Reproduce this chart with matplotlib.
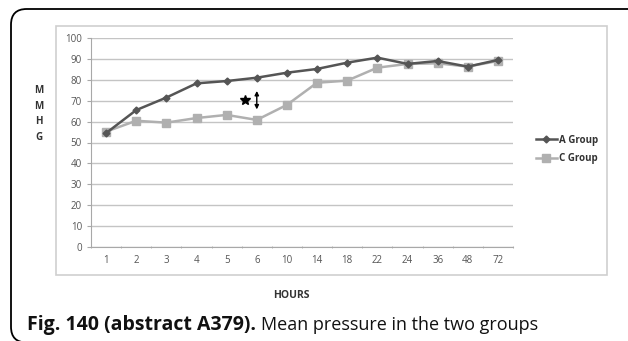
import numpy as np
import matplotlib
matplotlib.use('Agg')
import matplotlib.pyplot as plt
from matplotlib.patches import FancyBboxPatch, Rectangle

hours = ['1', '2', '3', '4', '5', '6', '10', '14', '18', '22', '24', '36', '48', '72']
a_group = [54.5, 65.5, 71.5, 78.3, 79.4, 81.0, 83.4, 85.2, 88.2, 90.6, 87.6, 89.0, 86.3, 89.5]
c_group = [55.2, 60.4, 59.5, 61.7, 63.2, 60.8, 68.0, 78.6, 79.6, 85.8, 87.6, 87.9, 86.3, 89.0]

plt.rcParams['font.family'] = ['Open Sans', 'DejaVu Sans']

fig = plt.figure(figsize=(6.28, 3.41), dpi=100)
W, H = 628, 341

# outer rounded frame (runs off right edge, bottom sits at image edge)
fig.patches.append(FancyBboxPatch((11 / W, -1.5 / H), 40 / W + (W - 11) / W, (341 - 9 + 1.5) / H,
                                  boxstyle='round,pad=0,rounding_size=0.025',
                                  transform=fig.transFigure, fill=False,
                                  edgecolor='black', linewidth=1.3, mutation_aspect=W / H))
# excel chart area
fig.patches.append(Rectangle((56 / W, (H - 275) / H), (607 - 56) / W, (275 - 26) / H,
                             transform=fig.transFigure, fill=False,
                             edgecolor='#cfcfcf', linewidth=1.2))

ax = fig.add_axes([91 / W, (H - 247) / H, (513 - 91) / W, (247 - 38) / H])
x = np.arange(len(hours))

ax.plot(x, a_group, color='#555555', lw=1.8, marker='D', ms=3.5, label='A Group', zorder=3)
ax.plot(x, c_group, color='#b0b0b0', lw=1.8, marker='s', ms=5.5, label='C Group', zorder=2)

ax.set_xlim(-0.5, len(hours) - 0.5)
ax.set_ylim(0, 100)
ax.set_yticks(range(0, 101, 10))
ax.set_xticks(x)
ax.set_xticklabels(hours)
ax.yaxis.grid(True, color='#c4c4c4', lw=1.0)
ax.set_axisbelow(True)
for s in ['top', 'right']:
    ax.spines[s].set_visible(False)
ax.spines['left'].set_color('#a8a8a8')
ax.spines['bottom'].set_color('#a8a8a8')
ax.tick_params(axis='both', labelsize=7, colors='#a8a8a8', labelcolor='#555555', length=3)
ax.tick_params(axis='x', length=0, pad=6)
ax.set_xticks(np.arange(-0.5, len(hours) + 0.5, 1), minor=True)
ax.tick_params(axis='x', which='minor', length=2, color='#a8a8a8', direction='inout')

# significance marks
ax.annotate('', xy=(5, 76), xytext=(5, 64.5),
            arrowprops=dict(arrowstyle='<|-|>', color='black', lw=1, mutation_scale=6))
ax.plot([4.62], [70.5], marker='*', color='black', ms=7, ls='none')

fig.text(39 / W, 1 - 114 / H, 'M\nM\nH\nG', ha='center', va='center', fontsize=7,
         fontweight='bold', color='#333333', linespacing=1.55)
fig.text(291 / W, 1 - 296 / H, 'HOURS', ha='center', va='center', fontsize=7.5,
         fontweight='bold', color='#333333')

leg = ax.legend(loc='center left', bbox_to_anchor=(527 / W, 1 - 149.5 / H),
                bbox_transform=fig.transFigure, frameon=False, fontsize=7,
                handlelength=2.2, handletextpad=0.15, labelspacing=0.75)
for t in leg.get_texts():
    t.set_fontweight('bold')
    t.set_color('#333333')

cap_b = fig.text(27 / W, 1 - 325 / H, 'Fig. 140 (abstract A379).', ha='left', va='center',
                 fontsize=14, fontweight='bold', color='#111111')
fig.canvas.draw()
bb = cap_b.get_window_extent()
fig.text((bb.x1 + 5) / W, 1 - 325 / H, 'Mean pressure in the two groups', ha='left',
         va='center', fontsize=13, color='#111111')

fig.savefig('out.png', dpi=100)
